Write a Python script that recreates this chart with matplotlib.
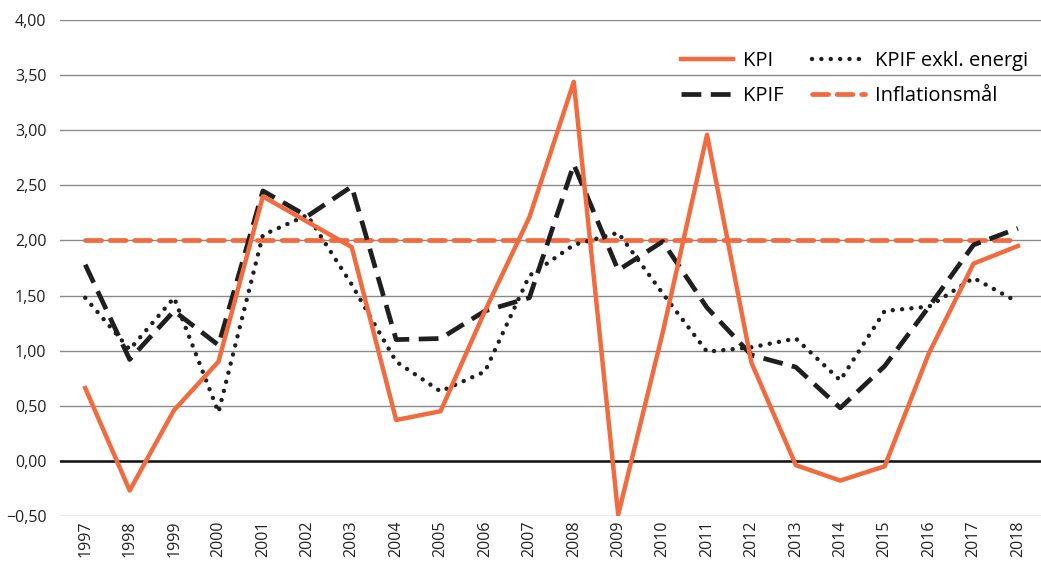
import matplotlib.pyplot as plt
from matplotlib.ticker import FuncFormatter

# Data
years = [str(y) for y in range(1997, 2019)]
kpi = [0.66, -0.27, 0.46, 0.90, 2.40, 2.17, 1.94, 0.37, 0.45, 1.36, 2.21,
       3.44, -0.49, 1.16, 2.96, 0.89, -0.04, -0.18, -0.05, 0.98, 1.79, 1.95]
kpif = [1.78, 0.92, 1.36, 1.05, 2.45, 2.22, 2.49, 1.10, 1.11, 1.36, 1.48,
        2.69, 1.73, 1.99, 1.39, 0.96, 0.85, 0.48, 0.86, 1.40, 1.96, 2.11]
kpif_ex = [1.48, 1.01, 1.48, 0.44, 2.05, 2.23, 1.60, 0.90, 0.63, 0.81, 1.68,
           1.96, 2.07, 1.52, 0.99, 1.03, 1.11, 0.73, 1.36, 1.40, 1.66, 1.44]
target = [2.0] * len(years)

orange = '#f26b3f'
dark = '#1f1f1f'

plt.rcParams['font.family'] = ['Open Sans', 'DejaVu Sans']

fig = plt.figure(figsize=(10.41, 5.77), dpi=100)
ax = fig.add_axes([0.058, 0.106, 0.942, 0.859])

x = list(range(len(years)))
ax.plot(x, kpi, color=orange, lw=3.2, label='KPI', zorder=4)
ax.plot(x, kpif, color=dark, lw=3.4, ls=(0, (4.2, 2.0)), label='KPIF', zorder=3)
ax.plot(x, kpif_ex, color=dark, lw=3.2, ls=(0, (0.01, 2.1)),
        dash_capstyle='round', label='KPIF exkl. energi', zorder=3)
ax.plot(x, target, color=orange, lw=3.4, ls=(0, (3.4, 1.8)),
        dash_capstyle='round', label='Inflationsmål', zorder=2)

ax.set_xlim(-0.56, 21.52)
ax.set_ylim(-0.5, 4.0)
ax.set_yticks([-0.5 + 0.5 * i for i in range(10)])
ax.yaxis.set_major_formatter(FuncFormatter(
    lambda v, p: ('−' if v < 0 else '') + f'{abs(v):.2f}'.replace('.', ',')))
ax.set_xticks(x)
ax.set_xticklabels(years, rotation=90)
ax.tick_params(length=0, labelsize=11.5, colors='#222222')
ax.tick_params(axis='y', pad=10)

ax.grid(axis='y', color='#8a8a8a', lw=1)
ax.axhline(0, color='#111111', lw=1.8, zorder=1)
ax.set_axisbelow(True)
for s in ax.spines.values():
    s.set_visible(False)

ax.legend(ncol=2, loc='upper right', bbox_to_anchor=(1.005, 0.975), frameon=False,
          fontsize=14.5, handlelength=2.6, columnspacing=1.4, labelspacing=0.75,
          handletextpad=0.5)

fig.savefig('out.png', dpi=100)
